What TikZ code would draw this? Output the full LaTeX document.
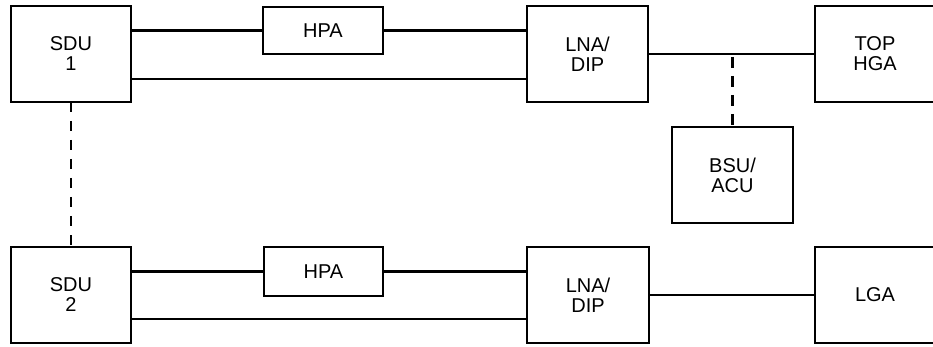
\documentclass[tikz,border=0pt]{standalone}
\usepackage{fontspec}
\setmainfont{Liberation Sans}
\begin{document}
\begin{tikzpicture}[x=1pt,y=-1pt,
  blk/.style={draw,line width=2.4pt,inner sep=0pt,outer sep=0pt,align=center,
    font=\fontsize{20}{20}\selectfont},
  wire/.style={line width=2.4pt},
  dwire/.style={line width=2.4pt,dash pattern=on 10pt off 9pt}]
\useasboundingbox (0,0) rectangle (933,347);
\clip (0,0) rectangle (933,347);
\node[blk,minimum width=120pt,minimum height=96pt] (sdu1) at (71,54) {SDU\\1};
\node[blk,minimum width=120pt,minimum height=47pt] (hpa1) at (323,30.5) {HPA};
\node[blk,minimum width=121pt,minimum height=96pt] (lna1) at (587.5,54) {LNA/\\DIP};
\node[blk,minimum width=120pt,minimum height=96pt] (top) at (875,54) {TOP\\HGA};
\node[blk,minimum width=121pt,minimum height=96pt] (bsu) at (732.5,175) {BSU/\\ACU};
\node[blk,minimum width=120pt,minimum height=96pt] (sdu2) at (71,295) {SDU\\2};
\node[blk,minimum width=119pt,minimum height=49pt] (hpa2) at (323.5,271.5) {HPA};
\node[blk,minimum width=122pt,minimum height=96pt] (lna2) at (588,295) {LNA/\\DIP};
\node[blk,minimum width=120pt,minimum height=96pt] (lga) at (875,295) {LGA};
\coordinate (r1) at (0,79);
\coordinate (r2) at (0,319);
% top chain
\draw[wire] (hpa1.west -| sdu1.east) -- (hpa1.west);
\draw[wire] (hpa1.east) -- (hpa1.east -| lna1.west);
\draw[wire] (sdu1.east |- r1) -- (lna1.west |- r1);
\draw[wire] (lna1.east) -- (top.west);
\draw[wire,dash pattern=on 11pt off 8pt,dash phase=16pt] (bsu.north |- lna1.east) -- (bsu.north);
% bottom chain
\draw[wire] (hpa2.west -| sdu2.east) -- (hpa2.west);
\draw[wire] (hpa2.east) -- (hpa2.east -| lna2.west);
\draw[wire] (sdu2.east |- r2) -- (lna2.west |- r2);
\draw[wire] (lna2.east) -- (lga.west);
% SDU link
\draw[dwire] (sdu1.south) -- (sdu2.north);
\end{tikzpicture}
\end{document}
